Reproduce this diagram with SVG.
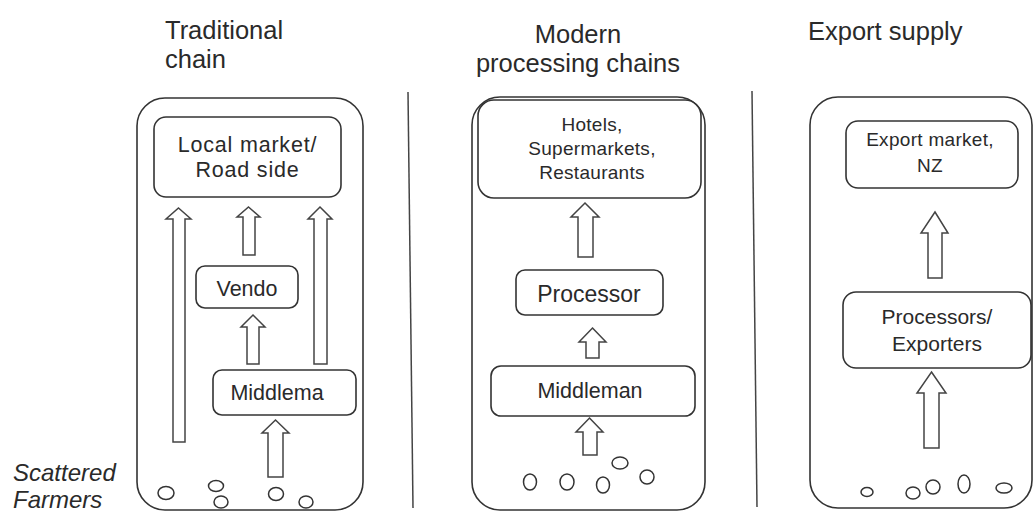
<svg xmlns="http://www.w3.org/2000/svg" width="1033" height="514" viewBox="0 0 1033 514">
<style>
.bg{fill:#ffffff}
.panel{fill:none;stroke:#333;stroke-width:1.6}
.box{fill:#fff;stroke:#333;stroke-width:1.6}
.arr{fill:#fff;stroke:#444;stroke-width:1.5;stroke-linejoin:miter}
.dot{fill:none;stroke:#333;stroke-width:1.5}
.div{stroke:#444;stroke-width:1.5}
text{font-family:"Liberation Sans",Arial,sans-serif;fill:#2a2a2a}
.hd{font-size:25.5px}
.t1{font-size:21.5px;text-anchor:middle}
.t2{font-size:19px;text-anchor:middle;letter-spacing:0.3px}
.ital{font-size:24px;font-style:italic}
</style>
<rect class="bg" x="0" y="0" width="1033" height="514"/>

<g id="headers">
<text class="hd" x="165" y="39">Traditional</text>
<text class="hd" x="165" y="68">chain</text>
<text class="hd" x="578" y="43" text-anchor="middle">Modern</text>
<text class="hd" x="578" y="72" text-anchor="middle">processing chains</text>
<text class="hd" x="808" y="40">Export supply</text>
</g>

<g id="scattered-farmers">
<text class="ital" x="13" y="481">Scattered</text>
<text class="ital" x="13" y="508">Farmers</text>
</g>

<g id="dividers">
<line class="div" x1="408" y1="92" x2="413" y2="508"/>
<line class="div" x1="752" y1="91" x2="757" y2="507"/>
</g>

<g id="panel-traditional">
<rect class="panel" x="137" y="98" width="226" height="412" rx="28"/>
</g>
<g id="panel-modern">
<rect class="panel" x="472" y="97" width="233" height="413" rx="28"/>
</g>
<g id="panel-export">
<rect class="panel" x="810" y="97" width="222" height="411" rx="28"/>
</g>

<g id="node-local-market">
<rect class="box" x="154" y="117" width="187" height="80" rx="12"/>
<text class="t1" x="247.5" y="152" letter-spacing="0.8">Local market/</text>
<text class="t1" x="247.5" y="177" letter-spacing="0.8">Road side</text>
</g>
<g id="node-vendo">
<rect class="box" x="196" y="266" width="102" height="42" rx="9"/>
<text class="t1" x="247" y="296">Vendo</text>
</g>
<g id="node-middlema">
<rect class="box" x="213" y="370" width="143" height="45" rx="9"/>
<text class="t1" x="277" y="400">Middlema</text>
</g>

<g id="node-hotels">
<rect class="box" x="478" y="100" width="223" height="98" rx="16"/>
<text class="t2" x="592" y="131">Hotels,</text>
<text class="t2" x="592" y="155">Supermarkets,</text>
<text class="t2" x="592" y="179">Restaurants</text>
</g>
<g id="node-processor">
<rect class="box" x="516" y="270" width="147" height="45" rx="9"/>
<text class="t1" x="589" y="302" style="font-size:23px">Processor</text>
</g>
<g id="node-middleman">
<rect class="box" x="491" y="366" width="204" height="50" rx="10"/>
<text class="t1" x="590" y="398">Middleman</text>
</g>

<g id="node-export-market">
<rect class="box" x="846" y="121" width="172" height="67" rx="12"/>
<text class="t2" x="930" y="146">Export market,</text>
<text class="t2" x="930" y="172">NZ</text>
</g>
<g id="node-processors-exporters">
<rect class="box" x="843" y="292" width="188" height="76" rx="13"/>
<text class="t1" x="937" y="324" style="font-size:21px">Processors/</text>
<text class="t1" x="937" y="351" style="font-size:21px">Exporters</text>
</g>

<g id="connectors">
<polygon class="arr" points="178.5,208 191,219 185,219 185,442 173,442 173,219 166,219"/>
<polygon class="arr" points="248.5,207 260,217 255,217 255,255 243,255 243,217 237,217"/>
<polygon class="arr" points="320,207 332,219 327,219 327,364 314,364 314,219 308,219"/>
<polygon class="arr" points="253,315 265,327 259,327 259,364 247,364 247,327 241,327"/>
<polygon class="arr" points="275.5,420 289,433 283,433 283,477 268,477 268,433 262,433"/>
<polygon class="arr" points="585,203 599,217 593,217 593,257 578,257 578,217 571,217"/>
<polygon class="arr" points="592.5,328 606,342 599,342 599,358 586,358 586,342 579,342"/>
<polygon class="arr" points="589.5,418 603,432 597,432 597,455 583,455 583,432 576,432"/>
<polygon class="arr" points="935,212 948,233 942,233 942,278 928,278 928,233 921,233"/>
<polygon class="arr" points="931.5,372 946,393 939,393 939,448 924,448 924,393 917,393"/>
</g>

<g id="farmers-dots">
<ellipse class="dot" cx="166" cy="493" rx="8" ry="6.5"/>
<ellipse class="dot" cx="216" cy="486" rx="7.5" ry="5.5"/>
<ellipse class="dot" cx="221" cy="502" rx="7" ry="6"/>
<ellipse class="dot" cx="276" cy="494" rx="7.5" ry="6.5"/>
<ellipse class="dot" cx="306" cy="502" rx="7" ry="6"/>
<ellipse class="dot" cx="530" cy="482" rx="6.5" ry="8"/>
<ellipse class="dot" cx="567" cy="482" rx="7" ry="8"/>
<ellipse class="dot" cx="603" cy="485" rx="6.5" ry="8"/>
<ellipse class="dot" cx="620" cy="463" rx="8" ry="6"/>
<ellipse class="dot" cx="647" cy="477" rx="7" ry="7"/>
<ellipse class="dot" cx="867" cy="492" rx="6" ry="4.5"/>
<ellipse class="dot" cx="913" cy="493" rx="7" ry="6"/>
<ellipse class="dot" cx="933" cy="487" rx="7" ry="7"/>
<ellipse class="dot" cx="964" cy="484" rx="6" ry="9"/>
<ellipse class="dot" cx="1004" cy="488" rx="8" ry="5"/>
</g>
</svg>
